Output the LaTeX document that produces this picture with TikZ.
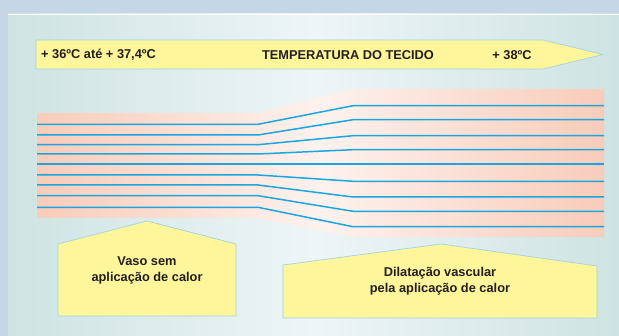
\documentclass[tikz,border=0pt]{standalone}
\usepackage{fontspec}
\setmainfont{Liberation Sans}
\definecolor{outerbg}{RGB}{197,214,230}
\definecolor{panelc}{RGB}{206,227,227}
\definecolor{panelmid}{RGB}{238,245,246}
\definecolor{pinkc}{RGB}{248,204,186}
\definecolor{pinkmid}{RGB}{253,242,238}
\definecolor{vesselc}{RGB}{26,166,224}
\definecolor{yellowc}{RGB}{255,245,155}
\definecolor{edgec}{RGB}{160,212,226}
\definecolor{textc}{RGB}{35,31,32}
\tikzset{
  vessel/.style={draw=vesselc, line width=1.5pt},
  ybox/.style={fill=yellowc, draw=edgec, line width=0.7pt},
  lbl/.style={text=textc, font=\bfseries\fontsize{12.8}{15.5}\selectfont, align=center, inner sep=0pt}
}
\begin{document}
\begin{tikzpicture}[x=1pt,y=-1pt]
\useasboundingbox (0,0) rectangle (619,336);
\fill[outerbg] (0,0) rectangle (619,336);
\shade[left color=panelc, right color=panelc, middle color=panelmid] (8,14) rectangle (619,336);
\draw[white, line width=0.8pt] (8,14.4) -- (619,14.4);
% banner
\path[ybox] (36,40) -- (543,40) -- (603,54.5) -- (543,69) -- (36,69) -- cycle;
\node[lbl, anchor=west] (t1) at (41,55) {+ 36ºC até + 37,4ºC};
\node[lbl] (t2) at (348,55) {TEMPERATURA DO TECIDO};
\node[lbl] (t3) at (512,55) {+ 38ºC};
% tissue
\shade[left color=pinkc, right color=pinkc, middle color=pinkmid]
  (37,113) -- (258,113) -- (353,89) -- (604,89) -- (604,237) -- (353,237) -- (258,218) -- (37,218) -- cycle;
\foreach \a/\b in {124.3/105.7, 135/119.7, 144.7/135.7, 154/149.7, 164/164, 175/181.3, 185/197, 195.7/211.3, 207.3/226.7}
  \draw[vessel] (37,\a) -- (258,\a) -- (353,\b) -- (604,\b);
% bottom labels
\path[ybox] (58,316) -- (58,244) -- (147,221) -- (236,244) -- (236,316) -- cycle;
\node[lbl] (b1) at (147,270.5) {Vaso sem\\aplicação de calor};
\path[ybox] (283,318) -- (283,265) -- (441,244) -- (597,266) -- (597,318) -- cycle;
\node[lbl] (b2) at (440,281) {Dilatação vascular\\pela aplicação de calor};
\end{tikzpicture}
\end{document}
